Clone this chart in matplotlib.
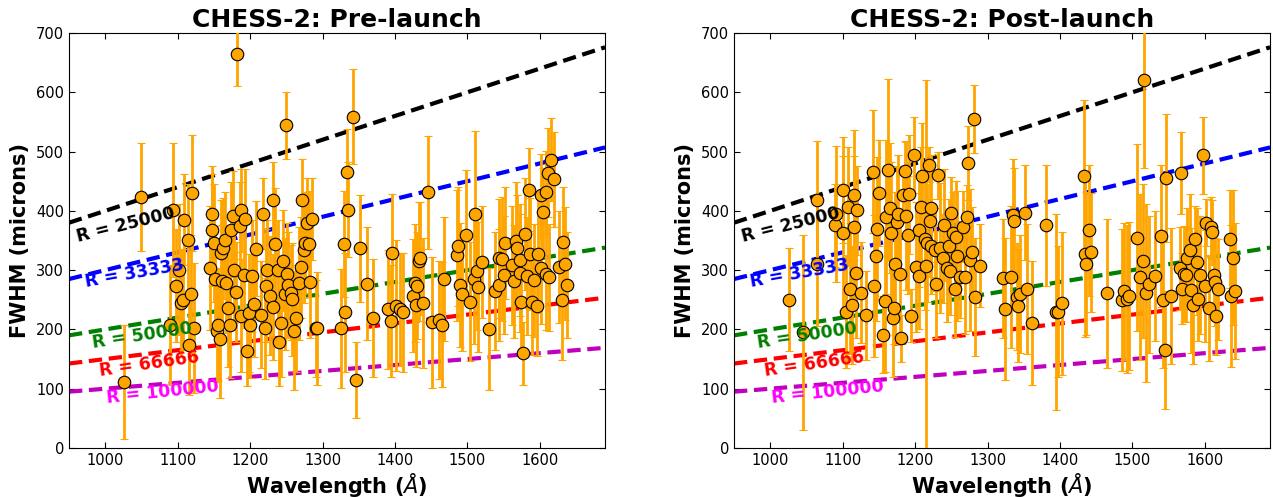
import numpy as np
import matplotlib
matplotlib.use("Agg")
from matplotlib import pyplot as plt

# resolution lines: FWHM (microns) = wavelength / R * 1e4
r_values = [25000, 33333, 50000, 66666, 100000]
r_line_colors = ['k', 'b', 'g', 'r', 'm']
r_text_colors = ['k', 'b', 'g', 'r', '#FF00FF']
r_text_x = [962, 973, 983, 993, 1002]
r_text_y = [347, 272, 169, 121, 76]
r_text_rot = [14, 10, 8.5, 8, 6]

# Pre-launch
pre_wl = [1026, 1049, 1094, 1090, 1098, 1102, 1105, 1107, 1109, 1114, 1116, 1119, 1120, 1122,
          1144, 1147, 1148, 1150, 1152, 1154, 1156, 1159, 1160, 1163, 1165, 1161, 1167, 1170,
          1172, 1174, 1176, 1178, 1180, 1182, 1186, 1188, 1188, 1191, 1193, 1196, 1198, 1200,
          1203, 1205, 1208, 1215, 1218, 1220, 1222, 1224, 1228, 1231, 1232, 1234, 1238, 1240,
          1243, 1245, 1248, 1250, 1251, 1253, 1256, 1258, 1260, 1263, 1268, 1270, 1272, 1274,
          1276, 1278, 1281, 1283, 1286, 1291, 1293, 1326, 1330, 1331, 1334, 1335, 1342, 1346,
          1352, 1362, 1369, 1391, 1394, 1396, 1402, 1407, 1411, 1425, 1428, 1429, 1431, 1433,
          1435, 1439, 1445, 1451, 1461, 1465, 1467, 1485, 1487, 1490, 1493, 1498, 1504, 1509,
          1511, 1513, 1515, 1520, 1530, 1538, 1543, 1543, 1548, 1551, 1552, 1562, 1564, 1567,
          1569, 1572, 1573, 1574, 1577, 1580, 1582, 1585, 1587, 1589, 1592, 1596, 1598, 1601,
          1602, 1605, 1608, 1608, 1611, 1613, 1615, 1619, 1626, 1630, 1632, 1635, 1637]
pre_fwhm = [112, 423, 401, 208, 274, 301, 245, 250, 385, 351, 174, 260, 430, 202,
            304, 368, 395, 346, 285, 197, 208, 184, 329, 337, 351, 281, 279, 236,
            208, 368, 392, 300, 263, 665, 374, 401, 223, 292, 386, 163, 228, 208,
            290, 243, 336, 225, 395, 202, 274, 300, 257, 418, 238, 344, 300, 179,
            210, 316, 260, 544, 294, 275, 262, 251, 198, 219, 278, 305, 418, 334,
            346, 380, 344, 280, 386, 202, 202, 202, 344, 229, 465, 402, 559, 115,
            337, 277, 219, 234, 214, 329, 240, 234, 229, 257, 278, 241, 274, 315,
            320, 245, 431, 212, 216, 208, 285, 325, 340, 275, 259, 359, 247, 285,
            395, 299, 272, 314, 201, 265, 275, 320, 319, 292, 346, 308, 281, 349,
            337, 295, 317, 247, 160, 361, 290, 436, 327, 247, 283, 240, 327, 304,
            426, 398, 431, 294, 464, 288, 486, 453, 305, 249, 347, 311, 275]
pre_err = [96, 91, 113, 100, 95, 110, 90, 85, 77, 95, 85, 100, 98, 110,
           105, 95, 80, 100, 90, 85, 95, 100, 90, 85, 80, 95, 85, 100,
           90, 80, 75, 90, 85, 55, 75, 70, 95, 90, 85, 58, 100, 90,
           95, 90, 80, 90, 60, 85, 95, 85, 100, 65, 90, 95, 85, 74,
           90, 85, 95, 57, 85, 90, 80, 95, 100, 90, 95, 85, 69, 90,
           85, 75, 90, 95, 69, 82, 95, 100, 90, 100, 73, 80, 80, 64,
           90, 95, 100, 100, 95, 100, 110, 95, 100, 95, 100, 105, 90, 100,
           95, 110, 95, 110, 100, 105, 105, 110, 100, 105, 95, 110, 100, 110,
           140, 100, 110, 95, 103, 100, 95, 100, 105, 100, 95, 100, 95, 100,
           90, 100, 95, 90, 53, 95, 100, 70, 95, 90, 95, 85, 100, 95,
           70, 75, 70, 95, 75, 90, 70, 80, 95, 100, 94, 95, 90]

# Post-launch
post_wl = [1026, 1045, 1065, 1065, 1089, 1091, 1100, 1100, 1104, 1107, 1110, 1113, 1115, 1116,
           1119, 1120, 1125, 1132, 1142, 1143, 1146, 1148, 1150, 1155, 1158, 1160, 1162, 1165,
           1167, 1169, 1171, 1172, 1175, 1176, 1179, 1181, 1183, 1186, 1188, 1190, 1192, 1194,
           1199, 1201, 1205, 1205, 1208, 1210, 1213, 1215, 1216, 1219, 1222, 1221, 1222, 1227,
           1229, 1232, 1234, 1238, 1240, 1244, 1247, 1248, 1250, 1252, 1255, 1256, 1258, 1262,
           1266, 1269, 1271, 1273, 1276, 1278, 1281, 1282, 1290, 1321, 1324, 1332, 1335, 1337,
           1340, 1342, 1345, 1352, 1354, 1362, 1381, 1394, 1397, 1403, 1433, 1434, 1436, 1440,
           1443, 1465, 1486, 1489, 1492, 1495, 1506, 1511, 1515, 1516, 1519, 1523, 1531, 1539,
           1542, 1545, 1546, 1553, 1565, 1567, 1568, 1571, 1574, 1576, 1579, 1581, 1584, 1587,
           1589, 1591, 1593, 1597, 1600, 1602, 1606, 1608, 1610, 1612, 1614, 1615, 1618, 1634,
           1636, 1639, 1641]
post_fwhm = [250, 195, 418, 311, 376, 395, 435, 363, 230, 407, 269, 241, 427, 372,
             296, 401, 262, 224, 466, 273, 324, 370, 430, 191, 248, 390, 469, 405,
             362, 219, 236, 311, 381, 395, 294, 185, 427, 468, 391, 359, 428, 223,
             494, 305, 367, 290, 407, 458, 352, 307, 346, 478, 404, 383, 340, 334,
             276, 460, 337, 320, 376, 303, 340, 299, 397, 362, 268, 356, 324, 289,
             373, 288, 389, 481, 317, 331, 555, 255, 307, 286, 234, 288, 393, 383,
             255, 240, 260, 397, 268, 211, 376, 229, 230, 244, 459, 328, 311, 367,
             330, 261, 250, 264, 251, 257, 355, 288, 316, 620, 261, 276, 290, 357,
             250, 165, 456, 256, 303, 464, 269, 294, 292, 320, 334, 266, 241, 353,
             314, 251, 292, 494, 273, 380, 236, 373, 364, 292, 280, 222, 268, 353,
             256, 321, 265]
post_err = [87, 165, 100, 105, 70, 115, 90, 130, 95, 100, 110, 100, 110, 120,
            110, 75, 85, 75, 104, 120, 110, 120, 90, 65, 120, 130, 154, 110,
            120, 100, 60, 120, 95, 100, 110, 40, 48, 50, 125, 100, 100, 45,
            64, 110, 95, 90, 100, 90, 120, 314, 100, 30, 90, 95, 80, 70,
            90, 40, 110, 75, 95, 90, 80, 75, 60, 70, 80, 95, 110, 70,
            60, 95, 55, 62, 120, 75, 57, 100, 70, 100, 120, 120, 95, 90,
            90, 95, 100, 80, 110, 104, 102, 165, 110, 121, 128, 140, 120, 110,
            100, 126, 120, 115, 125, 125, 157, 140, 130, 147, 150, 115, 110, 120,
            115, 100, 108, 115, 70, 69, 60, 80, 80, 85, 95, 105, 100, 55,
            90, 70, 100, 65, 95, 40, 90, 50, 55, 70, 75, 65, 85, 83,
            120, 114, 115]

plt.rcParams['font.family'] = 'DejaVu Sans'
plt.rcParams['mathtext.fontset'] = 'dejavusans'


def draw_panel(ax, wl, fwhm, err, title):
    wl_line = np.array([950, 1690])
    for R, lc, tc, tx, ty, rot in zip(r_values, r_line_colors, r_text_colors,
                                      r_text_x, r_text_y, r_text_rot):
        ax.plot(wl_line, wl_line / R * 1e4, color=lc, lw=3, dashes=(3.2, 1.6))
        ax.text(tx, ty, f"R = {R}", color=tc, fontsize=12.5, fontweight='bold',
                rotation=rot, rotation_mode='anchor', ha='left', va='baseline', zorder=5)
    ax.errorbar(wl, fwhm, yerr=err, fmt='o', color='orange', ecolor='orange',
                mfc='orange', mec='k', mew=0.8, ms=9, elinewidth=2, capsize=3,
                capthick=2, zorder=3)
    ax.set_xlim(950, 1690)
    ax.set_ylim(0, 700)
    ax.set_xticks([1000, 1100, 1200, 1300, 1400, 1500, 1600])
    ax.set_yticks([0, 100, 200, 300, 400, 500, 600, 700])
    ax.tick_params(direction='in', top=True, right=True, length=4, labelsize=10.5)
    ax.set_title(title, fontsize=18, fontweight='bold', pad=4)
    ax.set_xlabel(r"Wavelength ($\AA$)", fontsize=15, fontweight='bold', labelpad=2)
    ax.set_ylabel("FWHM (microns)", fontsize=15, fontweight='bold', labelpad=4)


fig = plt.figure(figsize=(12.73, 4.97), dpi=100)
ax1 = fig.add_axes([0.0542, 0.0986, 0.4211, 0.835])
ax2 = fig.add_axes([0.5766, 0.0986, 0.4211, 0.835])

draw_panel(ax1, pre_wl, pre_fwhm, pre_err, "CHESS-2: Pre-launch")
draw_panel(ax2, post_wl, post_fwhm, post_err, "CHESS-2: Post-launch")

fig.savefig("out.png", dpi=100)
